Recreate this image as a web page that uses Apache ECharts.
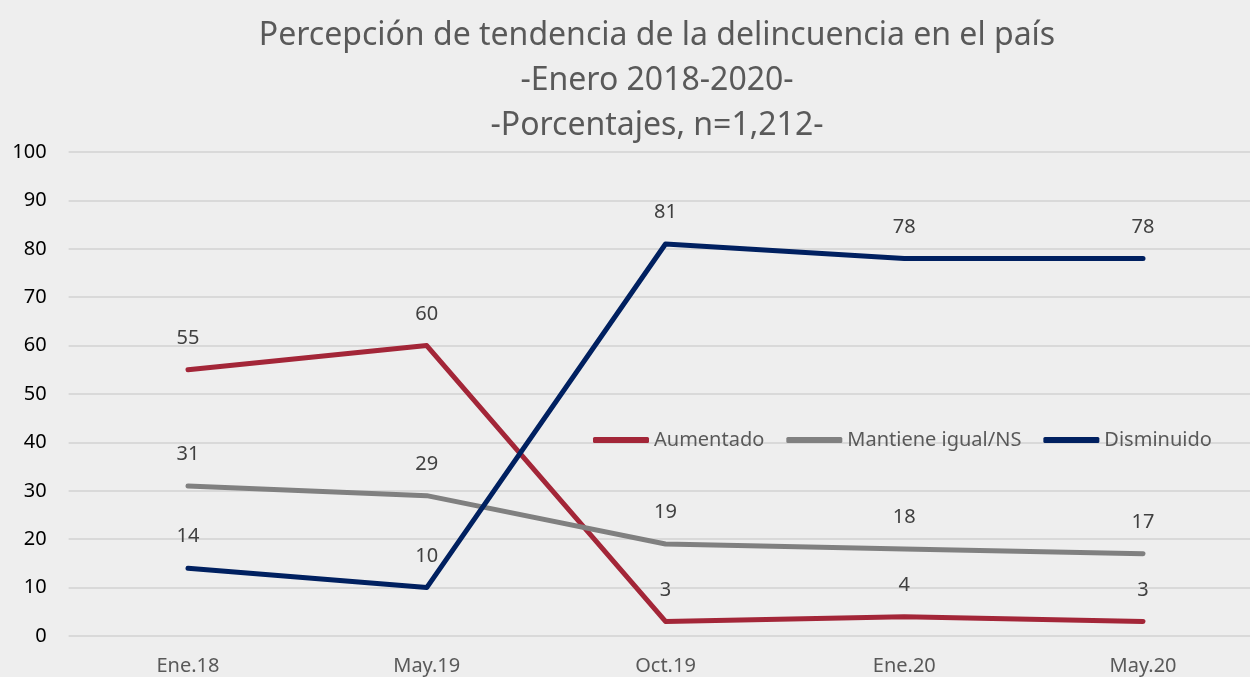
<!DOCTYPE html>
<html>
<head>
<meta charset="utf-8">
<script src="https://cdn.jsdelivr.net/npm/echarts@6/dist/echarts.min.js"></script>
<style>
  html, body { margin: 0; padding: 0; background: #eeeeee; }
  #chart { width: 1250px; height: 677px; }
</style>
</head>
<body>
<div id="chart"></div>
<script>
// datos
const categories = ['Ene.18', 'May.19', 'Oct.19', 'Ene.20', 'May.20']
const aumentado = [55, 60, 3, 4, 3]
const mantiene = [31, 29, 19, 18, 17]
const disminuido = [14, 10, 81, 78, 78]

const font = 'Noto Sans'

function lineSerie(name, data, color) {
  return {
    name: name,
    type: 'line',
    data: data,
    symbol: 'circle',
    symbolSize: 1,
    lineStyle: { width: 5, color: color, cap: 'round', join: 'round' },
    itemStyle: { color: color },
    label: {
      show: true,
      position: 'top',
      distance: 21,
      color: '#404040',
      fontSize: 20,
      fontFamily: font
    }
  }
}

const chart = echarts.init(document.getElementById('chart'))
chart.setOption({
  backgroundColor: '#eeeeee',
  animation: false,
  title: {
    text: 'Percepción de tendencia de la delincuencia en el país\n-Enero 2018-2020-\n-Porcentajes, n=1,212-',
    left: 652,
    textAlign: 'center',
    top: 8,
    textStyle: {
      color: '#595959',
      fontSize: 32,
      fontWeight: 'normal',
      fontFamily: font,
      lineHeight: 45
    }
  },
  legend: {
    left: 593,
    top: 430,
    padding: 0,
    icon: 'roundRect',
    itemWidth: 56,
    itemHeight: 6,
    itemGap: 22,
    textStyle: { color: '#595959', fontSize: 20, fontFamily: font },
    data: ['Aumentado', 'Mantiene igual/NS', 'Disminuido']
  },
  grid: {
    left: 68.6,
    right: -12.4,
    top: 152,
    bottom: 41,
    outerBoundsMode: 'none'
  },
  xAxis: {
    type: 'category',
    data: categories,
    boundaryGap: true,
    axisLine: { show: false },
    axisTick: { show: false },
    axisLabel: { color: '#595959', fontSize: 20, fontFamily: font, margin: 20 }
  },
  yAxis: {
    type: 'value',
    min: 0,
    max: 100,
    interval: 10,
    axisLine: { show: false },
    axisTick: { show: false },
    axisLabel: { color: '#000000', fontSize: 20, fontFamily: font, margin: 22 },
    splitLine: { lineStyle: { color: '#d9d9d9', width: 2 } }
  },
  series: [
    lineSerie('Aumentado', aumentado, '#a32638'),
    lineSerie('Mantiene igual/NS', mantiene, '#808080'),
    lineSerie('Disminuido', disminuido, '#002060')
  ]
})
</script>
</body>
</html>
